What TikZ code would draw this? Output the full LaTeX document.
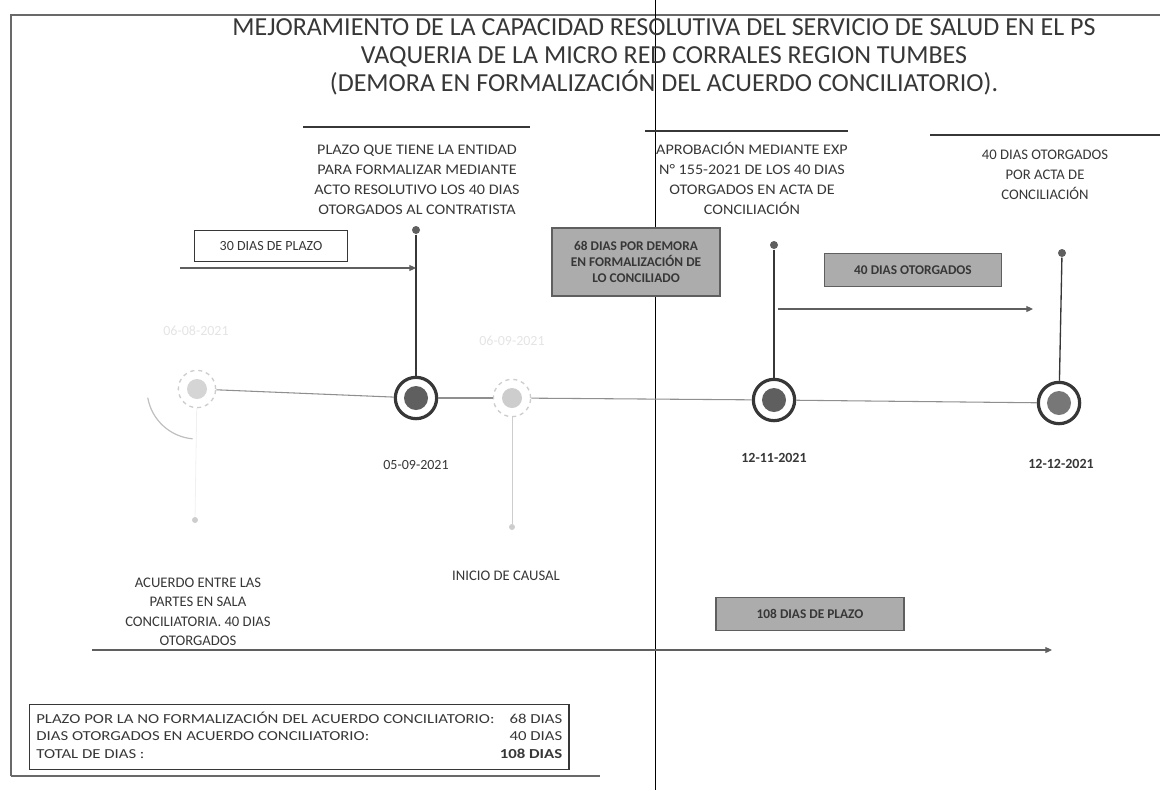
\documentclass[tikz,border=0pt]{standalone}
\usepackage{fontspec}
\setmainfont{Carlito}
\newfontfamily\widesans[FakeStretch=1.1]{Carlito}
\newfontfamily\legendsans[FakeStretch=1.22]{Carlito}
\usetikzlibrary{arrows.meta}

\definecolor{inkgray}{RGB}{55,55,55}
\definecolor{boxgray}{RGB}{172,172,172}
\definecolor{dotgray}{RGB}{95,95,95}
\definecolor{fadegray}{RGB}{205,205,205}
\definecolor{paleink}{RGB}{228,228,228}

\tikzset{every picture/.style={line width=0.75pt}}
\tikzset{
  lbl/.style={inner sep=0.75pt, align=center, text=inkgray, font=\fontsize{11}{15}\selectfont},
  datelbl/.style={inner sep=0.75pt, text=inkgray, font=\fontsize{10.5}{12}\selectfont},
  plainbox/.style={draw=inkgray, line width=1pt, fill=white, inner sep=0pt, text=inkgray, font=\fontsize{10.5}{12}\selectfont},
  graybox/.style={draw=inkgray!80, line width=1.2pt, fill=boxgray, inner sep=0pt, align=center, text=inkgray, font=\bfseries\fontsize{10}{12}\selectfont},
  ring/.style={circle, draw=inkgray, line width=2.4pt, fill=white, minimum size=31pt, inner sep=0pt},
  fadering/.style={circle, draw=fadegray, line width=1pt, dashed, fill=white, minimum size=28pt, inner sep=0pt},
  pin/.style={circle, fill=dotgray, minimum size=6pt, inner sep=0pt},
  fadepin/.style={circle, fill=fadegray, minimum size=4.5pt, inner sep=0pt},
  stem/.style={draw=inkgray, line width=1pt},
  tline/.style={draw=dotgray!70, line width=0.8pt},
  span/.style={draw=dotgray, line width=0.8pt, -{Triangle[length=5pt, width=4.5pt]}},
}

\begin{document}
\begin{tikzpicture}[x=0.75pt,y=0.75pt,yscale=-1,xscale=1]
\useasboundingbox (0,0) rectangle (1160,790);

%Frame
\draw [line width=1.8pt, inkgray!75]  (11,776) -- (11,15) -- (1160,15) ;
\draw [line width=1.5pt, inkgray!75]  (11,776) -- (600,776) ;
%Scan line
\draw [line width=0.55pt]  (655,0) -- (655,790) ;

% Title
\node [inner sep=0.75pt, align=center, text=inkgray, font=\fontsize{19.5}{21}\selectfont] (title) at (664,57) {MEJORAMIENTO DE LA CAPACIDAD RESOLUTIVA DEL SERVICIO DE SALUD EN EL PS\\VAQUERIA DE LA MICRO RED CORRALES REGION TUMBES\\(DEMORA EN FORMALIZACIÓN DEL ACUERDO CONCILIATORIO).};

%Rules above the labels
\draw [line width=1pt, inkgray]  (303,127) -- (530,127) ;
\draw [line width=1pt, inkgray]  (645,131) -- (848,131) ;
\draw [line width=1pt, inkgray]  (930,135) -- (1160,135) ;

% Event circles
\node [fadering] (e1) at (197,389) {};
\fill [fadegray!90!black!60] (e1.center) circle [radius=10] ;
\node [ring] (e2) at (416,398) {};
\fill [dotgray] (e2.center) circle [radius=12] ;
\node [fadering] (e3) at (512,398) {};
\fill [fadegray] (e3.center) circle [radius=10] ;
\node [ring] (e4) at (774,400) {};
\fill [dotgray] (e4.center) circle [radius=12] ;
\node [ring] (e5) at (1059,403) {};
\fill [dotgray!85] (e5.center) circle [radius=12] ;
\draw [fadegray!80!black!70, line width=0.9pt]  (e1.center) ++(170:50) arc [start angle=170, end angle=95, radius=50] ;

% Timeline
\draw [tline]  (e1) -- (e2) ;
\draw [tline]  (e2) -- (e3) ;
\draw [tline]  (e3) -- (e4) ;
\draw [tline]  (e4) -- (e5) ;

% Pins and stems
\node [fadepin] (d1) at (195,520) {};
\node [pin] (d2) at (416,230) {};
\node [fadepin] (d3) at (512,527) {};
\node [pin] (d4) at (774,245) {};
\node [pin] (d5) at (1062,253) {};
\draw [draw=black!6, line width=0.6pt]  (e1) -- (d1) ;
\draw [stem]  (d2) -- (e2) ;
\draw [draw=fadegray, line width=0.6pt]  (e3) -- (d3) ;
\draw [stem]  (d4) -- (e4) ;
\draw [stem]  (d5) -- (e5) ;

% Text Node
\node [lbl, font=\widesans\fontsize{11}{15}\selectfont] (l2) at (417,180) {PLAZO QUE TIENE LA ENTIDAD\\PARA FORMALIZAR MEDIANTE\\ACTO RESOLUTIVO LOS 40 DIAS\\OTORGADOS AL CONTRATISTA};
% Text Node
\node [lbl, font=\widesans\fontsize{11}{15}\selectfont] (l4) at (752,178) {APROBACIÓN MEDIANTE EXP\\N° 155-2021 DE  LOS 40 DIAS\\OTORGADOS EN ACTA DE\\CONCILIACIÓN};
% Text Node
\node [lbl] (l5) at (1045,175) {40 DIAS OTORGADOS\\POR ACTA DE\\CONCILIACIÓN};
% Text Node
\node [lbl, font=\fontsize{11}{14.6}\selectfont] (l1) at (198,612) {ACUERDO ENTRE LAS\\PARTES EN SALA\\CONCILIATORIA. 40 DIAS\\OTORGADOS};
% Text Node
\node [lbl] (l3) at (506,576) {INICIO DE CAUSAL};

% Dates
\node [datelbl, text=paleink] (t1) at (196,331) {06-08-2021};
\node [datelbl, text=paleink] (t3) at (512,341) {06-09-2021};
\node [datelbl] (t2) at (416,465) {05-09-2021};
\node [datelbl, font=\bfseries\fontsize{10.5}{12}\selectfont] (t4) at (774,458) {12-11-2021};
\node [datelbl, font=\bfseries\fontsize{10.5}{12}\selectfont] (t5) at (1061,464) {12-12-2021};

% Spans
\node [plainbox, minimum width=115pt, minimum height=23pt] (b30) at (271,246) {30 DIAS DE PLAZO};
\coordinate (s30) at (180,268);
\draw [span]  (s30) -- (s30 -| e2) ;
\node [graybox, minimum width=126pt, minimum height=51pt] (b68) at (636,262) {68 DIAS POR DEMORA\\EN FORMALIZACIÓN DE\\LO CONCILIADO};
\node [graybox, minimum width=133pt, minimum height=25pt] (b40) at (913,270) {40 DIAS OTORGADOS};
\coordinate (s40) at (778,309);
\draw [span]  (s40) -- (1033,309) ;
\node [graybox, minimum width=141pt, minimum height=25pt] (b108) at (810,614) {108 DIAS DE PLAZO};
\coordinate (s108) at (92,650);
\draw [span]  (s108) -- (1052,650) ;

% Legend
\node [draw=inkgray, line width=1pt, anchor=north west, inner xsep=5pt, inner ysep=4.5pt, text=inkgray, font=\legendsans\fontsize{10.3}{12}\selectfont] (legend) at (29,704) {%
\setlength{\tabcolsep}{0pt}\renewcommand{\arraystretch}{1.1}%
\begin{tabular}{@{}l@{\hspace{4pt}}r@{}}
PLAZO POR LA NO FORMALIZACIÓN DEL ACUERDO CONCILIATORIO: & 68 DIAS\\
DIAS OTORGADOS EN ACUERDO CONCILIATORIO: & 40 DIAS\\
TOTAL DE DIAS : & \textbf{108 DIAS}
\end{tabular}};

\end{tikzpicture}
\end{document}
